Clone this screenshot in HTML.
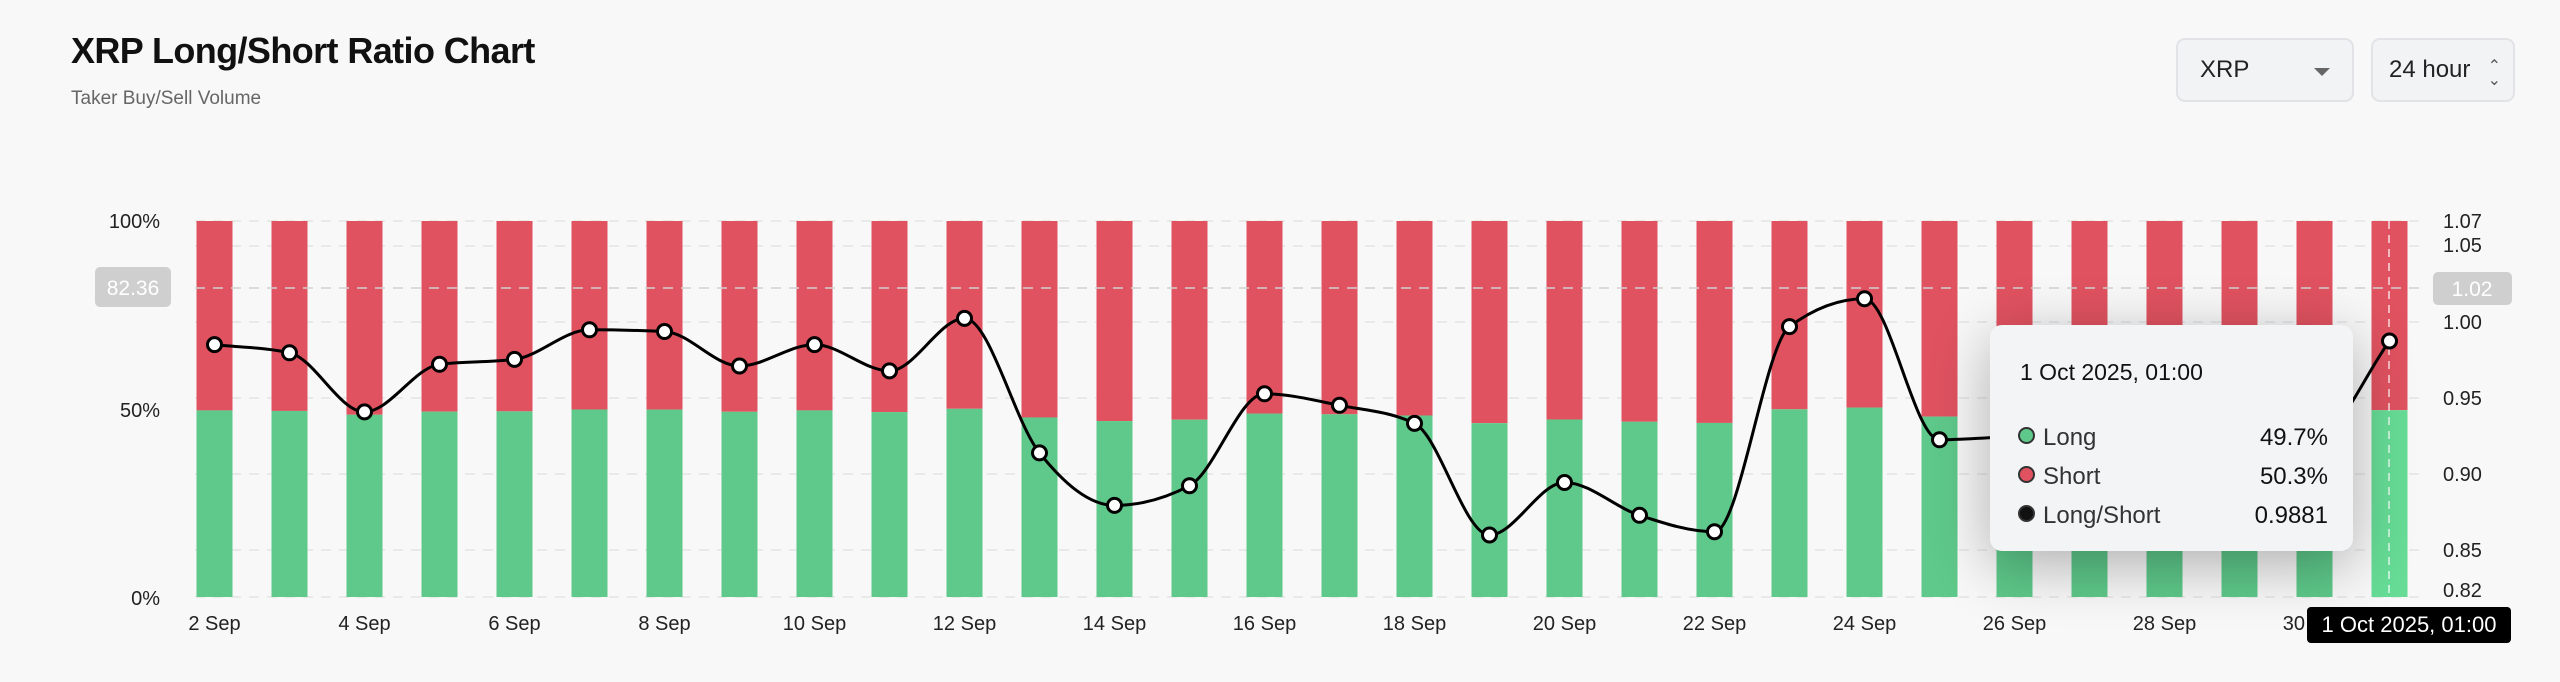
<!DOCTYPE html>
<html><head><meta charset="utf-8"><style>
body{margin:0;width:2560px;height:682px;background:#f8f8f8;font-family:"Liberation Sans",sans-serif;overflow:hidden;position:relative}
.t{position:absolute;left:71px;top:30px;font-size:36px;font-weight:bold;color:#111;letter-spacing:-0.6px}
.s{position:absolute;left:71px;top:88px;font-size:19px;color:#666}
.btn{position:absolute;top:38px;height:64px;border:2px solid #e2e3e6;border-radius:9px;background:#f2f3f5;box-sizing:border-box;font-size:24px;color:#222;line-height:60px}
</style></head><body>
<div class="t">XRP Long/Short Ratio Chart</div>
<div class="s">Taker Buy/Sell Volume</div>
<div class="btn" style="left:2176px;width:178px;padding-left:22px">XRP<span style="position:absolute;right:22px;top:28px;width:0;height:0;border-left:8px solid transparent;border-right:8px solid transparent;border-top:8px solid #666"></span></div>
<div class="btn" style="left:2371px;width:144px;padding-left:16px">24 hour<span style="position:absolute;right:12px;font-size:16px;color:#555;line-height:14px;top:20px">⌃<br>⌄</span></div>
<svg id="c" width="2560" height="682" style="position:absolute;left:0;top:0;z-index:0" font-family="Liberation Sans, sans-serif"></svg>
<div style="position:absolute;z-index:10;left:1990px;top:325px;width:363px;height:226px;border-radius:12px;background:#f3f4f6;box-shadow:0 14px 60px rgba(0,0,0,0.3)">
<div style="position:absolute;left:30px;top:34px;font-size:23px;color:#111">1 Oct 2025, 01:00</div>
<div style="position:absolute;left:28px;top:93px;font-size:24px;color:#333;line-height:39px;width:310px">
<div><span style="display:inline-block;width:13px;height:13px;border-radius:50%;background:#5ec98a;border:2px solid #333;margin-right:8px;vertical-align:1px"></span>Long<span style="float:right;color:#111">49.7%</span></div>
<div><span style="display:inline-block;width:13px;height:13px;border-radius:50%;background:#e05260;border:2px solid #333;margin-right:8px;vertical-align:1px"></span>Short<span style="float:right;color:#111">50.3%</span></div>
<div><span style="display:inline-block;width:13px;height:13px;border-radius:50%;background:#111;border:2px solid #333;margin-right:8px;vertical-align:1px"></span>Long/Short<span style="float:right;color:#111">0.9881</span></div>
</div></div>
<div style="position:absolute;z-index:11;left:2307px;top:607px;width:204px;height:36px;background:#000;border-radius:4px;color:#fff;font-size:22px;line-height:36px;text-align:center">1 Oct 2025, 01:00</div>
<script>
var svg=document.getElementById('c');var h='';
var T=221,B=597;
var ys=[344.6,352.8,411.9,364.3,359.4,329.8,331.5,366,344.6,370.9,318.4,452.9,505.4,485.7,393.8,405.3,423.4,535,482.5,515.3,531.7,326.6,298.7,439.8,437,475,470,460,445,341];
var xs=ys.map(function(_,i){return 214.5+75*i});
[221,246,322,398,474,550,597].forEach(function(y){h+='<line x1="195" x2="2420" y1="'+y+'" y2="'+y+'" stroke="#e4e4e4" stroke-width="1.5" stroke-dasharray="10,8"/>';});
for(var i=0;i<30;i++){var r=1-(ys[i]-322)/1520;var l=r/(1+r);var gy=B-(B-T)*l;
var g=i==29?'#66dc96':'#5ec98a';
h+='<rect x="'+(xs[i]-18)+'" y="'+T+'" width="36" height="'+(gy-T)+'" fill="#e05260"/>';
h+='<rect x="'+(xs[i]-18)+'" y="'+gy+'" width="36" height="'+(B-gy)+'" fill="'+g+'"/>';}
h+='<line x1="195" x2="2420" y1="288" y2="288" stroke="#d0d0d0" stroke-width="1.5" stroke-dasharray="10,8"/>';
h+='<line x1="2389" x2="2389" y1="221" y2="597" stroke="#fff" stroke-width="1.5" stroke-dasharray="8,6" opacity="0.8"/>';
var n=30,d=[],m=[];for(i=0;i<n-1;i++)d.push((ys[i+1]-ys[i])/75);
m[0]=d[0];m[n-1]=d[n-2];for(i=1;i<n-1;i++){var a=d[i-1],b=d[i];if(a*b<=0)m[i]=0;else m[i]=(Math.sign(a)+Math.sign(b))*Math.min(Math.abs(a),Math.abs(b),0.5*Math.abs((a+b)/2))}
var p='M'+xs[0]+','+ys[0];for(i=0;i<n-1;i++){p+=' C'+(xs[i]+25)+','+(ys[i]+m[i]*25)+' '+(xs[i+1]-25)+','+(ys[i+1]-m[i+1]*25)+' '+xs[i+1]+','+ys[i+1];}
h+='<path d="'+p+'" fill="none" stroke="#000" stroke-width="3"/>';
for(i=0;i<n;i++)h+='<circle cx="'+xs[i]+'" cy="'+ys[i]+'" r="7" fill="#fff" stroke="#000" stroke-width="3"/>';
h+='<text x="160" y="228" text-anchor="end" font-size="20" fill="#222">100%</text><text x="160" y="417" text-anchor="end" font-size="20" fill="#222">50%</text><text x="160" y="605" text-anchor="end" font-size="20" fill="#222">0%</text>';
h+='<rect x="95" y="267" width="76" height="40" rx="5" fill="#cfcfcf"/><text x="133" y="295" text-anchor="middle" font-size="21" fill="#fff">82.36</text>';
[['1.07',221],['1.05',245],['1.00',322],['0.95',398],['0.90',474],['0.85',550],['0.82',590]].forEach(function(a){h+='<text x="2443" y="'+(a[1]+7)+'" font-size="20" fill="#222">'+a[0]+'</text>'});
h+='<rect x="2433" y="272" width="79" height="33" rx="5" fill="#cfcfcf"/><text x="2472" y="296" text-anchor="middle" font-size="21" fill="#fff">1.02</text>';
for(i=0;i<29;i+=2)h+='<text x="'+xs[i]+'" y="630" text-anchor="middle" font-size="20" fill="#222">'+(2+i)+' Sep</text>';
svg.innerHTML=h;
</script>
</body></html>
